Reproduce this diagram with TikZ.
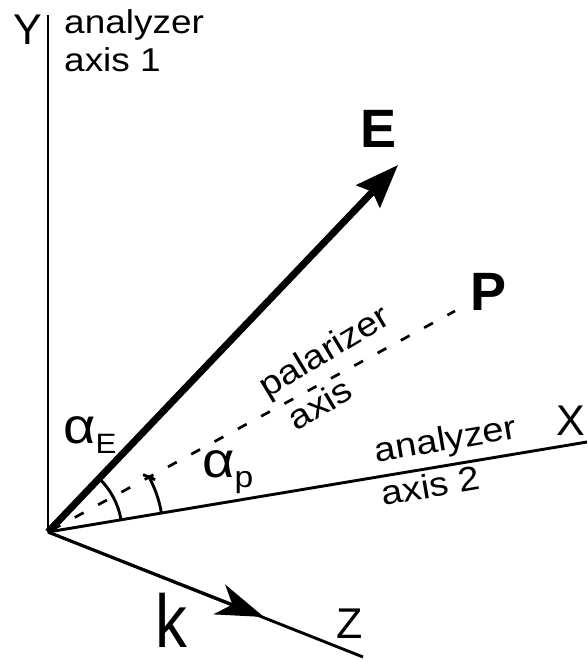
\documentclass[tikz,border=0pt]{standalone}
\usepackage{fontspec}
\setmainfont{Liberation Sans}
\newfontfamily\labfont[FakeStretch=1.12]{Liberation Sans}
\usetikzlibrary{arrows.meta,calc}
\begin{document}
\begin{tikzpicture}[x=1pt,y=-1pt,
  axisline/.style={line width=2.9pt},
  letter/.style={inner sep=0pt, anchor=base, font=\fontsize{43}{43}\selectfont},
  txt/.style={inner sep=0pt, align=left, font=\labfont\fontsize{34}{44}\selectfont},
  vec/.style={inner sep=0pt, anchor=base, font=\bfseries\fontsize{54}{54}\selectfont},
  angl/.style={inner sep=0pt, anchor=base west, font=\labfont\fontsize{50}{50}\selectfont}
]
\useasboundingbox (0,0) rectangle (587,660);
\coordinate (O) at (48,532);
\coordinate (Ytop) at (48,15);
\coordinate (Etip) at (398,165);
\coordinate (Pend) at (455,311);
\coordinate (Xend) at (587,442);
\coordinate (Zend) at (363,657);
\coordinate (Zmid) at (264,617);

% axes
\draw[axisline] (O) -- (Ytop);
\draw[axisline] (O) -- (Xend);
\draw[axisline] (O) -- (Zend);
\draw[axisline, -{Stealth[length=48pt,width=32pt,inset=14pt]}] (O) -- (Zmid);

% E vector
\draw[line width=7pt, -{Stealth[length=43pt,width=32pt,inset=6pt]}] (O) -- (Etip);

% polarizer axis
\draw[line width=2.7pt, dash pattern=on 10pt off 16.5pt, dash phase=22.5pt] (O) -- (Pend);

% angle arcs
\draw[axisline] (O) ++(-9.5:74) arc[start angle=-9.5, end angle=-46.4, radius=74];
\draw[axisline] (O) ++(-9.5:115) arc[start angle=-9.5, end angle=-28.5, radius=115] coordinate (Parc);
\coordinate (T1) at ($(Parc)+(-6,-2.5)$);
\coordinate (T2) at ($(Parc)+(6,2.5)$);
\draw[axisline] (T1) -- (T2);

% labels
\node[letter] (Ylab) at (27.5,45) {Y};
\node[letter] (Xlab) at (571,435) {X};
\node[letter] (Zlab) at (350,638) {Z};
\node[vec] (Elab) at (378.5,148) {E};
\node[vec] (Plab) at (488.5,310) {P};
\node[inner sep=0pt, anchor=base, font=\fontsize{75}{75}\selectfont] (klab) at (171,647) {\scalebox{0.85}[1]{k}};

\node[txt, anchor=base west, font=\labfont\fontsize{33}{38}\selectfont] (a1) at (64,72) {analyzer\\axis 1};
\node[txt, rotate=9.7] (a2) at (449,460) {analyzer\\axis 2};
\node[txt, rotate=31] (pa) at (335,369) {palarizer\\\hspace*{8pt}axis};

\node[angl] (aE) at (63,443) {α\raisebox{-10pt}{\fontsize{28}{28}\selectfont E}};
\node[angl] (aP) at (202,477) {α\raisebox{-10pt}{\fontsize{30}{30}\selectfont p}};
\end{tikzpicture}
\end{document}
